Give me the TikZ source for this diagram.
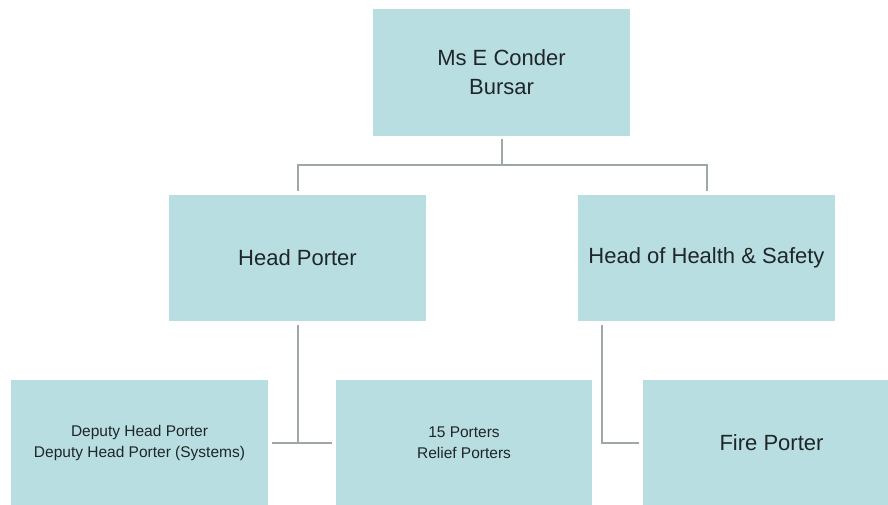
\documentclass[tikz,border=0pt]{standalone}
\usepackage{fontspec}
\setmainfont{Liberation Sans}
\definecolor{boxfill}{HTML}{B8DEE2}
\definecolor{linegray}{HTML}{9EA8A9}
\definecolor{txt}{HTML}{1E2628}
\begin{document}
\begin{tikzpicture}[x=1pt,y=-1pt,
  orgbox/.style={rectangle, fill=boxfill, draw=none, minimum width=257pt, minimum height=127pt, inner sep=0pt, align=center, text=txt, font=\fontsize{22}{29}\selectfont},
  smallbox/.style={orgbox, font=\fontsize{15.5}{21}\selectfont},
  conn/.style={draw=linegray, line width=2pt}]
\useasboundingbox (0,0) rectangle (888,504);
\clip (0,0) rectangle (888,504);
\node[orgbox] (bursar) at (501.5,72.5) {Ms E Conder\\Bursar};
\node[orgbox, minimum height=126pt] (hp) at (297.5,258) {Head Porter};
\node[orgbox, minimum height=126pt] (hs) at (706.5,258) {Head of Health \& Safety};
\node[smallbox] (dep) at (139.5,443) {Deputy Head Porter\\Deputy Head Porter (Systems)};
\node[smallbox, minimum width=256pt] (porters) at (464,443) {15 Porters\\Relief Porters};
\node[orgbox] (fire) at (771.5,443) {Fire Porter};
\coordinate (j1) at (501.5,165);
\coordinate (t1) at (297.5,443);
\coordinate (t2) at (601.5,443);
\draw[conn, shorten <=3pt] (bursar.south) -- (j1);
\draw[conn, shorten >=4pt] (j1) -| (hp.north);
\draw[conn, shorten >=4pt] (j1) -| (hs.north);
\draw[conn, shorten <=4pt] (hp.south) -- (t1);
\draw[conn, shorten <=4pt, shorten >=4pt] (dep.east) -- (porters.west);
\draw[conn, shorten <=4pt, shorten >=4pt] (hs.south -| t2) -- (t2) -- (fire.west);
\end{tikzpicture}
\end{document}
